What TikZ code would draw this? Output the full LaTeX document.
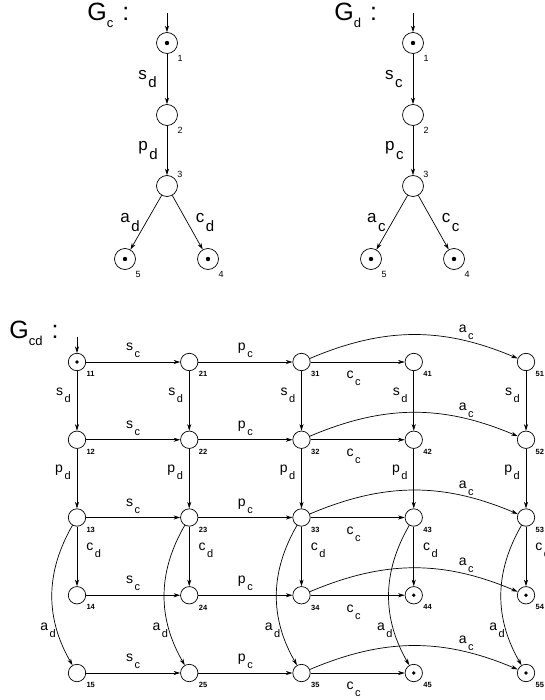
\documentclass[tikz,border=0pt]{standalone}
\usepackage{fontspec}
\setmainfont{Liberation Sans}
\usepackage{tikz}
\usetikzlibrary{arrows.meta}

% event name with its lowered index, e.g. \ev{s}{d}
\newcommand{\evsub}{15}
\newcommand{\ev}[2]{#1\hspace{1.5pt}\raisebox{-.5em}{\fontsize{\evsub}{\evsub}\selectfont #2}}
\newcommand{\gname}[1]{G\raisebox{-7pt}{\fontsize{13}{13}\selectfont #1}\hspace{9pt}:}

\tikzset{
  state/.style={circle,draw,inner sep=0pt,minimum size=21pt},
  gstate/.style={circle,draw,inner sep=0pt,minimum size=17.4pt},
  num/.style={font=\fontsize{9}{9}\selectfont,inner sep=0pt,label distance=5pt},
  gnum/.style={font=\fontsize{7.5}{7.5}\selectfont\bfseries,inner sep=0pt,label distance=4pt},
  title/.style={font=\fontsize{25}{25}\selectfont,inner sep=0pt,anchor=base west},
  toplab/.style={font=\fontsize{17}{17}\selectfont\def\evsub{15},inner sep=1pt},
  gridlab/.style={font=\fontsize{14}{14}\selectfont\def\evsub{11},inner sep=1pt},
}

\begin{document}
\begin{tikzpicture}[x=1pt,y=1pt,line width=0.7pt,
    >={Stealth[length=6.5pt,width=4pt,inset=2pt]}]
  \useasboundingbox (0,0) rectangle (544,-700);

  % G_c
  \node[title] (tc) at (87,-21) {\gname{c}};
  \coordinate (ic) at (167,-13);
  \node[state,label={[num]-50:1}] (c1) at (167,-43) {};
  \node[state,label={[num]-50:2}] (c2) at (167,-115) {};
  \node[state,label={[num,label distance=2pt]38:3}] (c3) at (167,-186) {};
  \node[state,label={[num]-50:4}] (c4) at (208,-259) {};
  \node[state,label={[num]-50:5}] (c5) at (125,-259) {};

  % G_d
  \node[title] (td) at (334,-21) {\gname{d}};
  \coordinate (id) at (413,-13);
  \node[state,label={[num]-50:1}] (d1) at (413,-43) {};
  \node[state,label={[num]-50:2}] (d2) at (413,-115) {};
  \node[state,label={[num,label distance=2pt]38:3}] (d3) at (413,-186) {};
  \node[state,label={[num]-50:4}] (d4) at (454,-259) {};
  \node[state,label={[num]-50:5}] (d5) at (371,-259) {};

  \foreach \n in {c1,c4,c5,d1,d4,d5}
    \fill (\n) circle (2.2pt);

  \begin{scope}[every node/.style={toplab}]
    \path [->] (ic) edge (c1);
    \path [->] (c1) edge node[left=9pt] {\ev{s}{d}} (c2);
    \path [->] (c2) edge node[left=8pt] {\ev{p}{d}} (c3);
    \path [->] (c3) edge node[left=5pt] {\ev{a}{d}} (c5);
    \path [->] (c3) edge node[right=7pt] {\ev{c}{d}} (c4);
    \path [->] (id) edge (d1);
    \path [->] (d1) edge node[left=9pt] {\ev{s}{c}} (d2);
    \path [->] (d2) edge node[left=8pt] {\ev{p}{c}} (d3);
    \path [->] (d3) edge node[left=5pt] {\ev{a}{c}} (d5);
    \path [->] (d3) edge node[right=7pt] {\ev{c}{c}} (d4);
  \end{scope}

  % G_cd: column = first digit, row = second digit
  \node[title] (tcd) at (9,-338) {\gname{cd}};
  \coordinate (icd) at (77,-337);
  \foreach \c in {1,...,5}
    \foreach \r in {1,...,5}
      \node[gstate,label={[gnum]-45:\c\r}] (n\c\r)
        at ({77+112.25*(\c-1)},{-362-77.75*(\r-1)}) {};
  \foreach \n in {11,44,45,54,55}
    \fill (n\n) circle (1.8pt);

  \begin{scope}[every node/.style={gridlab}]
    \path [->] (icd) edge (n11);
    \foreach \r in {1,...,5} {
      \path [->] (n1\r) edge node[above=3pt] {\ev{s}{c}} (n2\r);
      \path [->] (n2\r) edge node[above=3pt] {\ev{p}{c}} (n3\r);
      \path [->] (n3\r) edge node[below=8pt,xshift=-4pt] {\ev{c}{c}} (n4\r);
      \path [->] (n3\r) edge [bend left=23] node[pos=0.76,above=0pt] {\ev{a}{c}} (n5\r);
    }
    \foreach \c in {1,...,5} {
      \path [->] (n\c1) edge node[left=5pt,yshift=6pt] {\ev{s}{d}} (n\c2);
      \path [->] (n\c2) edge node[left=5pt,yshift=6pt] {\ev{p}{d}} (n\c3);
      \path [->] (n\c3) edge node[right=8pt,yshift=6pt] {\ev{c}{d}} (n\c4);
      \path [->] (n\c3) edge [bend right=30] node[pos=0.75,left=0pt] {\ev{a}{d}} (n\c5);
    }
  \end{scope}
\end{tikzpicture}
\end{document}
